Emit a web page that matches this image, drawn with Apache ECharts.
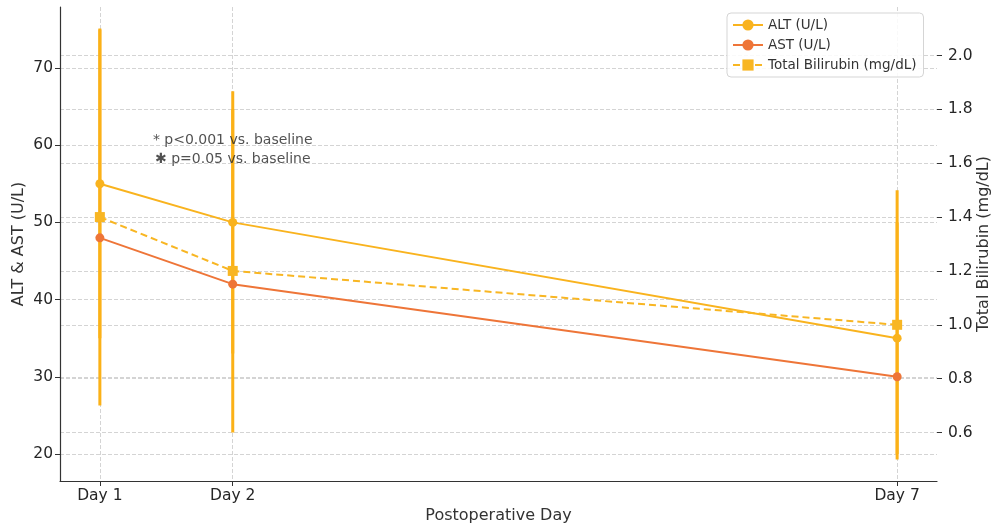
<!DOCTYPE html>
<html>
<head>
<meta charset="utf-8">
<script src="https://cdn.jsdelivr.net/npm/echarts@6/dist/echarts.min.js"></script>
<style>
html,body{margin:0;padding:0;background:#fff;}
#chart{width:992px;height:530px;}
</style>
</head>
<body>
<div id="chart"></div>
<script>
// ---- data ----
const days = [1, 2, 7];
const dayLabels = ['Day 1', 'Day 2', 'Day 7'];
const altValues = [55, 50, 35];
const altErr = [20, 17, 15];
const astValues = [48, 42, 30];
const biliValues = [1.4, 1.2, 1.0];
const biliErr = [0.7, 0.6, 0.5];
const leftTicks = [20, 30, 40, 50, 60, 70];
const rightTicks = [0.6, 0.8, 1.0, 1.2, 1.4, 1.6, 1.8, 2.0];
const annotX = [2, 2];
const annotY = [60.6, 58.2];
const annotText = ['* p<0.001 vs. baseline', '\u2731 p=0.05 vs. baseline'];

const FONT = 'DejaVu Sans';
const ALT_COLOR = '#F9B31E';
const AST_COLOR = '#EE7538';
const BILI_COLOR = '#F8B623';
const ERR_COLOR = '#FBB117';
const GRID_COLOR = '#d4d4d4';
const AXIS_COLOR = '#333333';

const pair = (xs, ys) => xs.map((x, i) => [x, ys[i]]);
const errData = (xs, ys, es) => xs.map((x, i) => [x, ys[i] - es[i], ys[i] + es[i]]);

function errRender(color) {
  return function (params, api) {
    const x = api.value(0), lo = api.value(1), hi = api.value(2);
    const p1 = api.coord([x, lo]);
    const p2 = api.coord([x, hi]);
    return {
      type: 'line',
      shape: {x1: p1[0], y1: p1[1], x2: p2[0], y2: p2[1]},
      style: {stroke: color, lineWidth: 3}
    };
  };
}

const chart = echarts.init(document.getElementById('chart'), null, {renderer: 'canvas'});
const option = {
  animation: false,
  backgroundColor: '#ffffff',
  textStyle: {fontFamily: FONT},
  grid: {left: 60, right: 55, top: 7, bottom: 49, containLabel: false, outerBoundsMode: 'none'},
  legend: {
    data: ['ALT (U/L)', 'AST (U/L)', 'Total Bilirubin (mg/dL)'],
    orient: 'vertical',
    left: 727, top: 13,
    padding: [5, 7, 5, 5],
    itemGap: 6, itemWidth: 30, itemHeight: 14,
    textStyle: {fontFamily: FONT, fontSize: 13.5, color: '#333'},
    borderColor: '#d5d5d5', borderWidth: 1, borderRadius: 4,
    backgroundColor: 'rgba(255,255,255,0.85)'
  },
  xAxis: {
    type: 'value', min: 0.7, max: 7.3,
    name: 'Postoperative Day', nameLocation: 'middle', nameGap: 27, nameMoveOverlap: false,
    nameTextStyle: {fontFamily: FONT, fontSize: 16, color: AXIS_COLOR},
    axisLine: {show: true, onZero: false, lineStyle: {color: AXIS_COLOR, width: 1.2}},
    axisTick: {show: true, length: 5, customValues: days, lineStyle: {color: AXIS_COLOR}},
    axisLabel: {
      customValues: days, margin: 7, fontSize: 15.5, color: '#262626', fontFamily: FONT,
      formatter: v => { const i = days.indexOf(v); return i >= 0 ? dayLabels[i] : ''; }
    },
    splitLine: {show: true, lineStyle: {color: GRID_COLOR, type: 'dashed', width: 1}}
  },
  yAxis: [
    {
      type: 'value', min: 16.5, max: 77.9, position: 'left',
      name: 'ALT & AST (U/L)', nameLocation: 'middle', nameGap: 33, nameRotate: 90, nameMoveOverlap: false,
      nameTextStyle: {fontFamily: FONT, fontSize: 16, color: AXIS_COLOR},
      axisLine: {show: true, lineStyle: {color: AXIS_COLOR, width: 1.2}},
      axisTick: {show: true, length: 5, customValues: leftTicks, lineStyle: {color: AXIS_COLOR}},
      axisLabel: {customValues: leftTicks, margin: 7, fontSize: 15.5, color: '#262626', fontFamily: FONT},
      splitLine: {show: true, lineStyle: {color: GRID_COLOR, type: 'dashed', width: 1}}
    },
    {
      type: 'value', min: 0.42, max: 2.18, position: 'right',
      name: 'Total Bilirubin (mg/dL)', nameLocation: 'middle', nameGap: 39, nameRotate: 90, nameMoveOverlap: false,
      nameTextStyle: {fontFamily: FONT, fontSize: 16, color: AXIS_COLOR},
      axisLine: {show: false},
      axisTick: {show: true, length: 5, customValues: rightTicks, lineStyle: {color: AXIS_COLOR}},
      axisLabel: {customValues: rightTicks, margin: 11, fontSize: 15.5, color: '#262626', fontFamily: FONT,
        formatter: v => v.toFixed(1)},
      splitLine: {show: true, lineStyle: {color: GRID_COLOR, type: 'dashed', width: 1}}
    }
  ],
  series: [
    {
      type: 'custom', name: 'altErr', yAxisIndex: 0, z: 1,
      data: errData(days, altValues, altErr), encode: {x: 0, y: [1, 2]},
      renderItem: errRender(ERR_COLOR), silent: true
    },
    {
      type: 'custom', name: 'biliErr', yAxisIndex: 1, z: 1,
      data: errData(days, biliValues, biliErr), encode: {x: 0, y: [1, 2]},
      renderItem: errRender(ERR_COLOR), silent: true
    },
    {
      type: 'line', name: 'ALT (U/L)', yAxisIndex: 0, z: 3,
      data: pair(days, altValues),
      symbol: 'circle', symbolSize: 9,
      lineStyle: {color: ALT_COLOR, width: 2},
      itemStyle: {color: ALT_COLOR}
    },
    {
      type: 'line', name: 'AST (U/L)', yAxisIndex: 0, z: 3,
      data: pair(days, astValues),
      symbol: 'circle', symbolSize: 9,
      lineStyle: {color: AST_COLOR, width: 2},
      itemStyle: {color: AST_COLOR}
    },
    {
      type: 'line', name: 'Total Bilirubin (mg/dL)', yAxisIndex: 1, z: 3,
      data: pair(days, biliValues),
      symbol: 'rect', symbolSize: 10,
      lineStyle: {color: BILI_COLOR, width: 2, type: [7, 4]},
      itemStyle: {color: BILI_COLOR}
    },
    {
      type: 'scatter', name: 'annot', yAxisIndex: 0, z: 5,
      symbolSize: 0, silent: true,
      data: annotX.map((x, i) => ({value: [x, annotY[i]], text: annotText[i]})),
      label: {
        show: true, position: 'inside', fontFamily: FONT, fontSize: 14, color: '#262626',
        formatter: p => p.data.text
      }
    }
  ]
};
chart.setOption(option);
</script>
</body>
</html>
